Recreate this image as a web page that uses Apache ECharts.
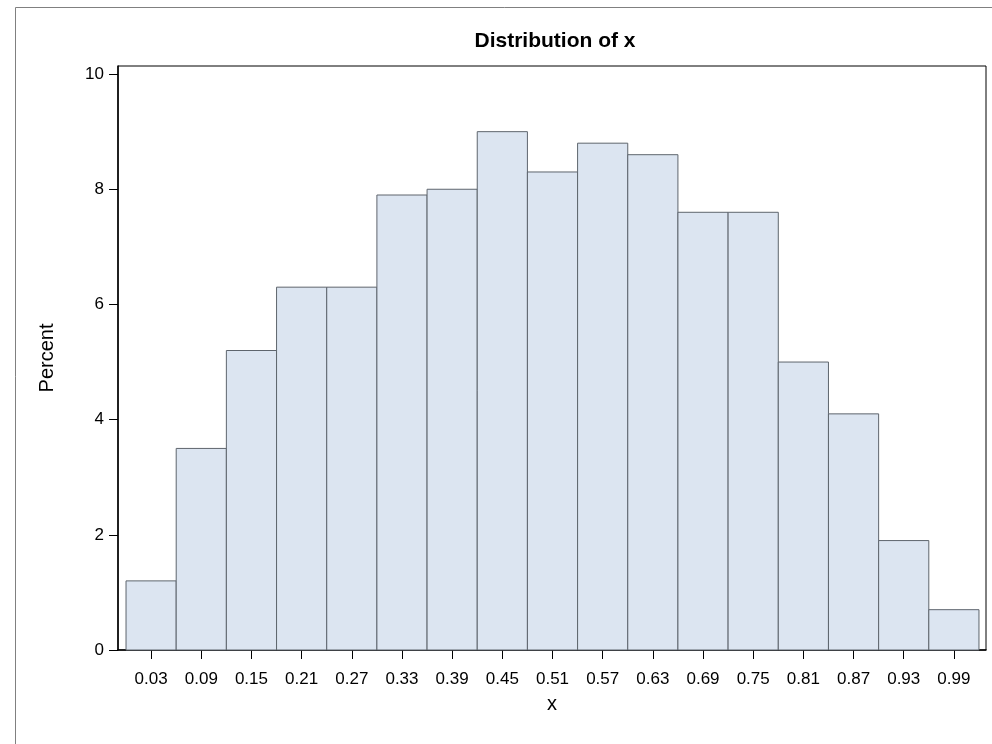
<!DOCTYPE html>
<html>
<head>
<meta charset="utf-8">
<script src="https://cdn.jsdelivr.net/npm/echarts@6/dist/echarts.min.js"></script>
<style>
html,body{margin:0;padding:0;background:#fff;}
#chart{width:992px;height:744px;}
</style>
</head>
<body>
<div id="chart"></div>
<script>
const binCenters = [0.03,0.09,0.15,0.21,0.27,0.33,0.39,0.45,0.51,0.57,0.63,0.69,0.75,0.81,0.87,0.93,0.99];
const percents = [1.2,3.5,5.2,6.3,6.3,7.9,8.0,9.0,8.3,8.8,8.6,7.6,7.6,5.0,4.1,1.9,0.7];
const binWidth = 0.06;
const xTickValues = binCenters.slice();
const yTickValues = [0,2,4,6,8,10];
const titleText = 'Distribution of x';
const xName = 'x';
const yName = 'Percent';

const font = '"Liberation Sans", Arial, sans-serif';
const chart = echarts.init(document.getElementById('chart'));
const data = binCenters.map((c, i) => [c, percents[i]]);

chart.setOption({
  animation: false,
  backgroundColor: '#fff',
  graphic: [{
    type: 'rect',
    shape: {x: 15.5, y: 7.5, width: 1000, height: 800},
    style: {fill: 'none', stroke: '#808080', lineWidth: 1},
    silent: true
  }],
  title: {
    text: titleText,
    left: 550, top: 26, textAlign: 'center',
    textStyle: {fontFamily: font, fontSize: 21, fontWeight: 'bold', color: '#000'}
  },
  grid: {
    left: 118, right: 6, top: 66, bottom: 94,
    show: true, borderColor: '#000', borderWidth: 1, backgroundColor: 'transparent'
  },
  xAxis: {
    type: 'value',
    min: -0.0096, max: 1.0284,
    name: xName, nameLocation: 'middle', nameGap: 44, nameMoveOverlap: false,
    nameTextStyle: {fontFamily: font, fontSize: 20, color: '#000'},
    axisLine: {show: true, onZero: false, lineStyle: {color: '#000', width: 1.5}},
    axisTick: {show: true, length: 9, customValues: xTickValues, lineStyle: {color: '#000'}},
    axisLabel: {customValues: xTickValues, formatter: v => v.toFixed(2), margin: 21,
      fontFamily: font, fontSize: 17, color: '#000'},
    splitLine: {show: false}
  },
  yAxis: {
    type: 'value',
    min: 0, max: 10.14,
    name: yName, nameLocation: 'middle', nameGap: 61, nameRotate: 90, nameMoveOverlap: false,
    nameTextStyle: {fontFamily: font, fontSize: 20, color: '#000'},
    axisLine: {show: true, onZero: false, lineStyle: {color: '#000', width: 1.5}},
    axisTick: {show: true, length: 9, customValues: yTickValues, lineStyle: {color: '#000'}},
    axisLabel: {customValues: yTickValues, margin: 14,
      fontFamily: font, fontSize: 17, color: '#000'},
    splitLine: {show: false}
  },
  series: [{
    type: 'custom',
    data: data,
    encode: {x: 0, y: 1},
    renderItem: function (params, api) {
      const c = api.value(0), v = api.value(1);
      const p1 = api.coord([c - binWidth / 2, v]);
      const p2 = api.coord([c + binWidth / 2, 0]);
      return {
        type: 'rect',
        shape: {x: p1[0], y: p1[1], width: p2[0] - p1[0], height: p2[1] - p1[1]},
        style: {fill: '#dce5f1', stroke: '#5e656d', lineWidth: 1}
      };
    }
  }]
});
</script>
</body>
</html>
